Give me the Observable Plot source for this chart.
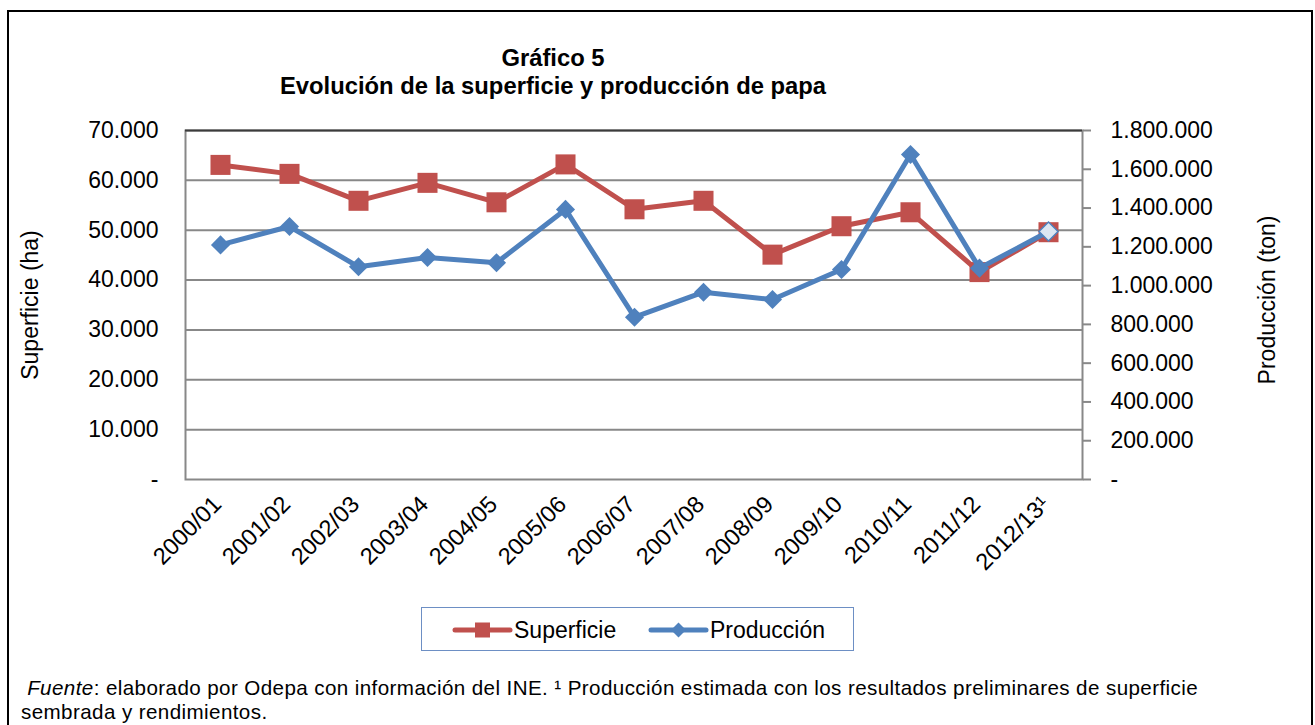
<!DOCTYPE html>
<html>
<head>
<meta charset="utf-8">
<script src="https://cdn.jsdelivr.net/npm/d3@7"></script>
<script src="https://cdn.jsdelivr.net/npm/@observablehq/plot@0.6"></script>
<style>
  html, body { margin: 0; padding: 0; background: #fff; }
  body { font-family: "Liberation Sans", Arial, sans-serif; color: #000; }
  #wrap { position: relative; width: 1315px; height: 725px; overflow: hidden; background: #fff; }
  #chart { position: absolute; left: 0; top: 0; }
  #frame { position: absolute; left: 7px; top: 10px; width: 1306px; height: 740px; border: 2.5px solid #000; box-sizing: border-box; pointer-events: none; }
  .title { position: absolute; left: 553px; transform: translateX(-50%); font-weight: bold; font-size: 23.8px; line-height: 28px; white-space: nowrap; text-align: center; }
  .ytitle { position: absolute; font-size: 23px; white-space: nowrap; transform: translate(-50%, -50%) rotate(-90deg); }
  #legend { position: absolute; left: 421px; top: 607px; width: 433px; height: 44px; border: 1.5px solid #6d8fc4; box-sizing: border-box; }
  #legend svg { position: absolute; left: 0; top: 0; }
  .foot { position: absolute; left: 21px; font-size: 20.6px; line-height: 22px; letter-spacing: 0.4px; white-space: nowrap; }
</style>
</head>
<body>
<div id="wrap">
  <div id="chart"></div>
  <div class="title" style="top:44px;">Gráfico 5</div>
  <div class="title" style="top:72px;">Evolución de la superficie y producción de papa</div>
  <div class="ytitle" style="left:30px; top:305px;">Superficie (ha)</div>
  <div class="ytitle" style="left:1267px; top:300px;">Producción (ton)</div>
  <div id="legend"></div>
  <div class="foot" style="top:677px;">&nbsp;<i>Fuente</i>: elaborado por Odepa con información del INE. ¹ Producción estimada con los resultados preliminares de superficie</div>
  <div class="foot" style="top:701px;">sembrada y rendimientos.</div>
  <div id="frame"></div>
</div>
<script>
// ---- Data ----
const categories = ["2000/01","2001/02","2002/03","2003/04","2004/05","2005/06","2006/07","2007/08","2008/09","2009/10","2010/11","2011/12","2012/13¹"];
const superficie = [63100, 61300, 55900, 59500, 55600, 63200, 54200, 55900, 45100, 50800, 53600, 41600, 49600];
const produccion = [1210000, 1305000, 1097000, 1145000, 1118000, 1393000, 837000, 966000, 928000, 1083000, 1676000, 1090000, 1279000];
const leftTicks = [0, 10000, 20000, 30000, 40000, 50000, 60000, 70000];
const rightTicks = [0, 200000, 400000, 600000, 800000, 1000000, 1200000, 1400000, 1600000, 1800000];
const seriesNames = ["Superficie", "Producción"];

// ---- Build ----
const rows = categories.map((c, i) => ({cat: c, sup: superficie[i], prod: produccion[i], i}));
const k = leftTicks[leftTicks.length - 1] / rightTicks[rightTicks.length - 1];
const loc = d3.formatLocale({decimal: ",", thousands: ".", grouping: [3], currency: ["$", ""]});
const f0 = loc.format(",.0f");
const fmt = v => Math.abs(v) < 1e-6 ? "-" : f0(v);
const red = "#C0504D", blue = "#4F81BD", grid = "#888888";
const last = rows.length - 1;

const chart = Plot.plot({
  width: 1315,
  height: 725,
  marginLeft: 185,
  marginRight: 233,
  marginTop: 130,
  marginBottom: 246,
  style: {fontFamily: "'Liberation Sans', Arial, sans-serif", fontSize: "23px", color: "#000", background: "transparent", overflow: "visible"},
  x: {type: "point", domain: categories, padding: 0.5},
  y: {domain: [0, leftTicks[leftTicks.length - 1]]},
  marks: [
    Plot.ruleY(leftTicks.slice(1, -1), {stroke: grid, strokeWidth: 2}),
    Plot.frame({stroke: grid, strokeWidth: 2}),
    Plot.ruleY([leftTicks[leftTicks.length - 1]], {stroke: "#3c3c3c", strokeWidth: 2}),
    Plot.axisY({anchor: "left", ticks: leftTicks, tickSize: 0, tickPadding: 27, tickFormat: fmt, label: null, fontSize: 23}),
    Plot.axisY({anchor: "right", ticks: rightTicks.map(v => v * k), tickSize: 8, tickPadding: 20, tickFormat: v => fmt(v / k), label: null, stroke: grid, strokeWidth: 2, fontSize: 23}),
    Plot.axisX({tickRotate: -45, tickSize: 0, tickPadding: 21, dx: -3, label: null, fontSize: 23.5}),
    Plot.line(rows, {x: "cat", y: "sup", stroke: red, strokeWidth: 5}),
    Plot.dot(rows, {x: "cat", y: "sup", symbol: "square", r: 11.3, fill: red, stroke: "none"}),
    Plot.line(rows, {x: "cat", y: d => d.prod * k, stroke: blue, strokeWidth: 5}),
    Plot.dot(rows, {filter: d => d.i < last, x: "cat", y: d => d.prod * k, symbol: "diamond2", r: 8.6, fill: blue, stroke: "none"}),
    Plot.dot(rows, {filter: d => d.i === last, x: "cat", y: d => d.prod * k, symbol: "diamond2", r: 8.6, fill: "#dce6f2", stroke: blue, strokeWidth: 1.5})
  ]
});
document.getElementById("chart").appendChild(chart);

// ---- Legend ----
const lg = d3.select("#legend").append("svg").attr("width", 433).attr("height", 44);
const items = [
  {name: seriesNames[0], color: red, x0: 33, shape: "square"},
  {name: seriesNames[1], color: blue, x0: 229, shape: "diamond"}
];
items.forEach(it => {
  const g = lg.append("g");
  g.append("line").attr("x1", it.x0).attr("x2", it.x0 + 55).attr("y1", 22).attr("y2", 22)
    .attr("stroke", it.color).attr("stroke-width", 5).attr("stroke-linecap", "round");
  const cx = it.x0 + 27.5;
  if (it.shape === "square") {
    g.append("rect").attr("x", cx - 7.5).attr("y", 22 - 7.5).attr("width", 15).attr("height", 15).attr("fill", it.color);
  } else {
    g.append("path").attr("d", `M${cx},${22 - 7.5}L${cx + 7.5},22L${cx},${22 + 7.5}L${cx - 7.5},22Z`).attr("fill", it.color);
  }
  g.append("text").attr("x", it.x0 + 59).attr("y", 22).attr("dy", "0.35em")
    .style("font-family", "'Liberation Sans', Arial, sans-serif").style("font-size", "23px").attr("fill", "#000").text(it.name);
});
</script>
</body>
</html>
